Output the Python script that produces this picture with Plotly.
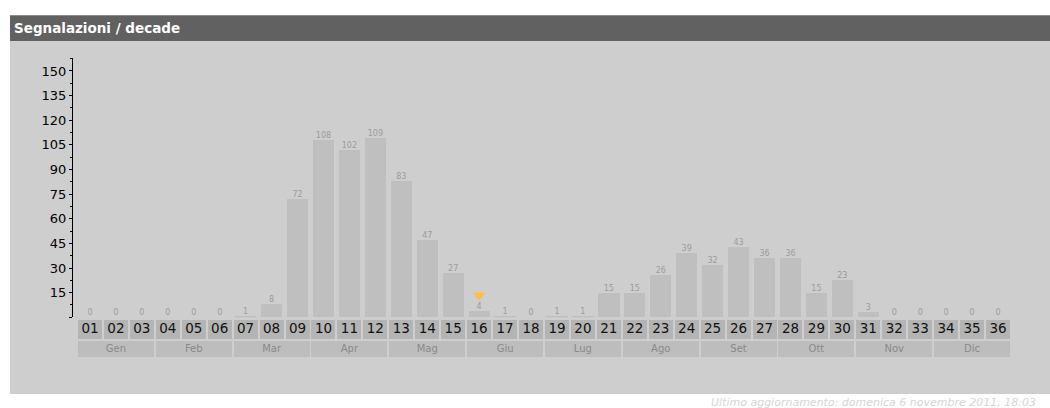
import plotly.graph_objects as go

# ---- data ----
decades = [f"{i:02d}" for i in range(1, 37)]
counts = [0, 0, 0, 0, 0, 0, 1, 8, 72, 108, 102, 109, 83, 47, 27, 4, 1, 0,
          1, 1, 15, 15, 26, 39, 32, 43, 36, 36, 15, 23, 3, 0, 0, 0, 0, 0]
months = ["Gen", "Feb", "Mar", "Apr", "Mag", "Giu", "Lug", "Ago", "Set", "Ott", "Nov", "Dic"]
month_centers = [decades[3 * i + 1] for i in range(12)]
y_ticks = list(range(0, 151, 15))
y_ticktext = [""] + [str(v) for v in y_ticks[1:]]
current_decade = ["16"]
current_marker_y = [13.5]
title_text = "Segnalazioni / decade"
footer_text = "Ultimo aggiornamento: domenica 6 novembre 2011, 18:03"

# ---- geometry helpers (pixels -> paper) ----
W, H = 1050, 408
ML, MR, MT, MB = 73, 39, 58, 51
PW, PH = W - ML - MR, H - MT - MB


def px(x):
    return (x - ML) / PW


def py(y):
    return (H - MB - y) / PH


FONT = "DejaVu Sans"

fig = go.Figure()

# main bars
fig.add_trace(go.Bar(
    x=decades, y=counts, width=0.82, marker=dict(color="#bfbfbf", line=dict(width=0)),
    xaxis="x", yaxis="y", hoverinfo="x+y", showlegend=False))

# value labels
fig.add_trace(go.Scatter(
    x=decades, y=counts, mode="text", text=[str(v) for v in counts],
    textposition="top center", textfont=dict(family=FONT, size=8, color="#9c9c9c"),
    xaxis="x", yaxis="y", hoverinfo="skip", showlegend=False, cliponaxis=False))

# current decade marker
fig.add_trace(go.Scatter(
    x=current_decade, y=current_marker_y, mode="markers",
    marker=dict(symbol="triangle-down", size=11, color="#fdbf4a", line=dict(width=0)),
    xaxis="x", yaxis="y", hoverinfo="skip", showlegend=False))

# decade label cells
fig.add_trace(go.Bar(
    x=decades, y=[19] * len(decades), base=18, width=0.925,
    marker=dict(color="#b4b4b4", line=dict(width=0)),
    xaxis="x", yaxis="y2", hoverinfo="skip", showlegend=False))
fig.add_trace(go.Scatter(
    x=decades, y=[27.5] * len(decades), mode="text", text=decades,
    textfont=dict(family=FONT, size=13.5, color="#111111"),
    xaxis="x", yaxis="y2", hoverinfo="skip", showlegend=False, cliponaxis=False))

# month label cells
fig.add_trace(go.Bar(
    x=month_centers, y=[16] * len(months), base=0, width=2.93,
    marker=dict(color="#bdbdbd", line=dict(width=0)),
    xaxis="x", yaxis="y2", hoverinfo="skip", showlegend=False))
fig.add_trace(go.Scatter(
    x=month_centers, y=[8] * len(months), mode="text", text=months,
    textfont=dict(family=FONT, size=10, color="#8a8a8a"),
    xaxis="x", yaxis="y2", hoverinfo="skip", showlegend=False, cliponaxis=False))

shapes = [
    # panel body
    dict(type="rect", xref="paper", yref="paper", x0=px(10), x1=px(1050), y0=py(394), y1=py(41),
         fillcolor="#cecece", line=dict(width=0), layer="below"),
    # header
    dict(type="rect", xref="paper", yref="paper", x0=px(10), x1=px(1050), y0=py(41), y1=py(15),
         fillcolor="#616161", line=dict(width=0), layer="below"),
    dict(type="line", xref="paper", yref="paper", x0=px(10), x1=px(1050), y0=py(15.5), y1=py(15.5),
         line=dict(color="#8c8c8c", width=1), layer="below"),
]

annotations = [
    dict(text=f"<b>{title_text}</b>", xref="paper", yref="paper", x=px(12), y=py(28.5),
         xanchor="left", yanchor="middle", showarrow=False,
         font=dict(family=FONT, size=13.5, color="#ffffff")),
    dict(text=footer_text, xref="paper", yref="paper", x=px(1038), y=py(402),
         xanchor="right", yanchor="middle", showarrow=False,
         font=dict(family=FONT, size=11, color="#d6d6d6", style="italic")),
]

n = len(decades)
fig.update_layout(
    width=W, height=H, margin=dict(l=ML, r=MR, t=MT, b=MB, pad=0),
    paper_bgcolor="#ffffff", plot_bgcolor="rgba(0,0,0,0)",
    bargap=0, barmode="overlay",
    shapes=shapes, annotations=annotations,
    xaxis=dict(type="category", categoryorder="array", categoryarray=decades,
               range=[-0.5 - 4 / 25.94, n - 0.5], anchor="y2",
               showticklabels=False, ticks="", showline=False, showgrid=False,
               zeroline=False, fixedrange=True),
    yaxis=dict(domain=[py(317.3), 1], range=[0, 157.9], anchor="x",
               tickvals=y_ticks, ticktext=y_ticktext, ticks="outside", ticklen=3,
               tickwidth=1, tickcolor="#000000", showline=True, linecolor="#000000",
               linewidth=1, showgrid=False, zeroline=False,
               tickfont=dict(family=FONT, size=13, color="#000000"),
               minor=dict(dtick=7.5, tick0=0, ticks="outside", ticklen=2,
                          tickcolor="#000000", showgrid=False),
               fixedrange=True),
    yaxis2=dict(domain=[0, py(320)], range=[0, 37], anchor="x", visible=False,
                fixedrange=True),
    showlegend=False,
)

fig.write_html("out.html")
